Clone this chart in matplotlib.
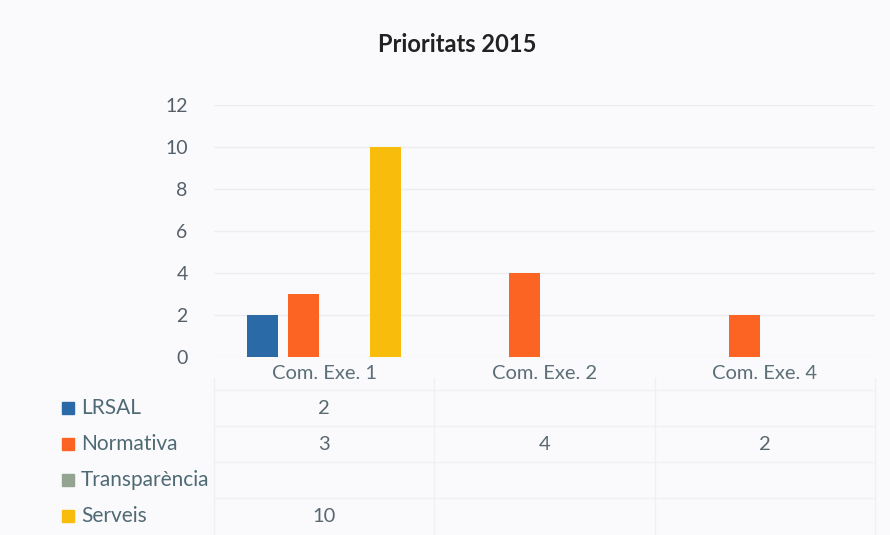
import matplotlib
matplotlib.use('Agg')
import matplotlib.pyplot as plt
import matplotlib.transforms as mtransforms
import numpy as np

plt.rcParams['font.family'] = ['Lato', 'DejaVu Sans']

# dades
categories = ['Com. Exe. 1', 'Com. Exe. 2', 'Com. Exe. 4']
series = ['LRSAL', 'Normativa', 'Transparència', 'Serveis']
values = {
    'LRSAL': [2, None, None],
    'Normativa': [3, 4, 2],
    'Transparència': [None, None, None],
    'Serveis': [10, None, None],
}
colors = ['#2a6aa6', '#fb6423', '#93a590', '#f8bc0c']
yticks = [0, 2, 4, 6, 8, 10, 12]

W, H = 890, 535
fig = plt.figure(figsize=(W / 100, H / 100), dpi=100)
fig.patch.set_facecolor('#fafafc')

# area del grafic (en pixels)
left, right, top, bottom = 214, 875, 105, 357
ax = fig.add_axes([left / W, 1 - bottom / H, (right - left) / W, (bottom - top) / H])
ax.set_facecolor('#fafafc')

x = np.arange(len(categories))
step = 41 / 220.5
width = 31 / 220.5
for i, name in enumerate(series):
    vals = values[name]
    xs = [x[j] + (i - 1.5) * step for j in range(len(x)) if vals[j] is not None]
    hs = [v for v in vals if v is not None]
    ax.bar(xs, hs, width=width, color=colors[i], zorder=3)

ax.set_xlim(-0.5, len(categories) - 0.5)
ax.set_ylim(0, 12)
ax.set_yticks(yticks)
ax.set_xticks(x)
ax.set_xticklabels(categories)
for s in ax.spines.values():
    s.set_visible(False)
ax.grid(axis='y', color='#ececf1', linewidth=1, zorder=0)
ax.tick_params(axis='y', length=0, pad=19, labelsize=14, labelcolor='#56606a')
ax.tick_params(axis='x', length=0, pad=6, labelsize=14.5, labelcolor='#5c6e78')

fig.text(457 / W, 1 - 45 / H, 'Prioritats 2015', ha='center', va='center',
         fontsize=17, fontweight='bold', color='#222222')

# taula de dades
trans = mtransforms.blended_transform_factory(ax.transData, fig.transFigure)
row_y = [408, 444, 480, 516]
for i, name in enumerate(series):
    yy = 1 - row_y[i] / H
    fig.patches.append(plt.Rectangle((62 / W, yy - 6 / H), 12 / W, 12 / H,
                                     transform=fig.transFigure, color=colors[i],
                                     figure=fig))
    fig.text(81 / W, yy, name, ha='left', va='center', fontsize=15,
             color='#4f6a74')
    for j, v in enumerate(values[name]):
        if v is not None:
            fig.text(x[j], yy, str(v), transform=trans, ha='center',
                     va='center', fontsize=14.5, color='#5a6870')

# linies de la taula
for yl in [390, 426, 462, 498]:
    fig.add_artist(plt.Line2D([214 / W, 875 / W], [1 - yl / H] * 2,
                              color='#f0f0f4', linewidth=1))
for xl in [214, 434, 655, 875]:
    fig.add_artist(plt.Line2D([xl / W] * 2, [1 - 378 / H, 0],
                              color='#f0f0f4', linewidth=1))

fig.savefig('out.png', dpi=100, facecolor=fig.get_facecolor())
